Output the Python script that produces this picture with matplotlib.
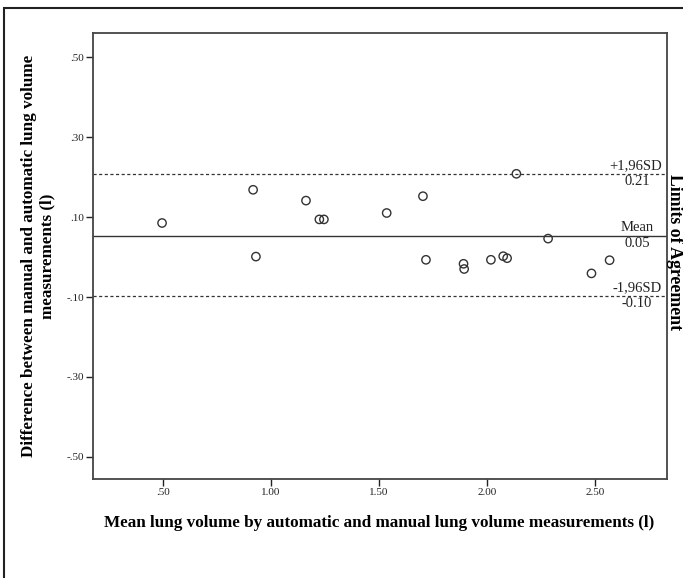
import numpy as np
import matplotlib.pyplot as plt
from matplotlib.patches import Rectangle

# Bland-Altman data
mean_vol = [0.495, 0.917, 0.930, 1.162, 1.224, 1.245, 1.536, 1.704, 1.718,
            1.892, 1.895, 2.019, 2.076, 2.094, 2.137, 2.284, 2.485, 2.569]
diff_vol = [0.085, 0.168, 0.001, 0.141, 0.094, 0.094, 0.110, 0.152, -0.007,
            -0.017, -0.030, -0.007, 0.002, -0.003, 0.208, 0.046, -0.041, -0.008]

mean_diff = 0.0525
upper_loa = 0.2075
lower_loa = -0.0975

x_ticks = [0.5, 1.0, 1.5, 2.0, 2.5]
x_ticklabels = [".50", "1.00", "1.50", "2.00", "2.50"]
y_ticks = [0.5, 0.3, 0.1, -0.1, -0.3, -0.5]
y_ticklabels = [".50", ".30", ".10", "-.10", "-.30", "-.50"]

plt.rcParams['font.family'] = ['Liberation Serif', 'DejaVu Serif']

W, H = 683, 578
fig = plt.figure(figsize=(W / 100, H / 100), dpi=100)
ax = fig.add_axes([93 / W, 1 - 479 / H, (667 - 93) / W, (479 - 33) / H])

# outer frame of the figure
fig.patches.append(Rectangle((4 / W, -0.05), 1.1, 1 - 8 / H + 0.05, transform=fig.transFigure,
                             fill=False, edgecolor="#222222", linewidth=1.5))

ax.scatter(mean_vol, diff_vol, s=36, facecolors="none", edgecolors="#333333", linewidths=1.0, zorder=3)

ax.axhline(mean_diff, color="#333333", linewidth=1.0)
ax.axhline(upper_loa, color="#333333", linewidth=0.9, linestyle=(0, (2.5, 2)))
ax.axhline(lower_loa, color="#333333", linewidth=0.9, linestyle=(0, (2.5, 2)))

ax.set_xlim(0.175, 2.835)
ax.set_ylim(-0.555, 0.56)
ax.set_xticks(x_ticks)
ax.set_xticklabels(x_ticklabels)
ax.set_yticks(y_ticks)
ax.set_yticklabels(y_ticklabels)
ax.tick_params(direction="out", length=5, width=1, labelsize=8, colors="#222222", pad=1.5)

for s in ax.spines.values():
    s.set_linewidth(1.3)
    s.set_color("#444444")

# labels for the lines
txt = dict(transform=ax.get_yaxis_transform(), fontsize=10.5, color="#222222")
ax.text(0.991, upper_loa + 0.004, "+1,96SD", ha="right", va="bottom", **txt)
ax.text(0.948, upper_loa - 0.003, "0.21", ha="center", va="top", **txt)
ax.text(0.948, mean_diff + 0.004, "Mean", ha="center", va="bottom", **txt)
ax.text(0.948, mean_diff - 0.003, "0.05", ha="center", va="top", **txt)
ax.text(0.991, lower_loa + 0.004, "-1,96SD", ha="right", va="bottom", **txt)
ax.text(0.948, lower_loa - 0.003, "-0.10", ha="center", va="top", **txt)

fig.text(379 / W, 1 - 523 / H,
         "Mean lung volume by automatic and manual lung volume measurements (l)",
         ha="center", va="center", fontsize=12.3, fontweight="bold")
fig.text(38 / W, 1 - 256 / H,
         "Difference between manual and automatic lung volume\nmeasurements (l)",
         rotation=90, ha="center", va="center", multialignment="center",
         fontsize=12.3, fontweight="bold", linespacing=1.15)
fig.text(674.5 / W, 1 - 252 / H, "Limits of Agreement", rotation=-90, ha="center", va="center",
         fontsize=12.8, fontweight="bold")

fig.savefig("out.png", dpi=100)
